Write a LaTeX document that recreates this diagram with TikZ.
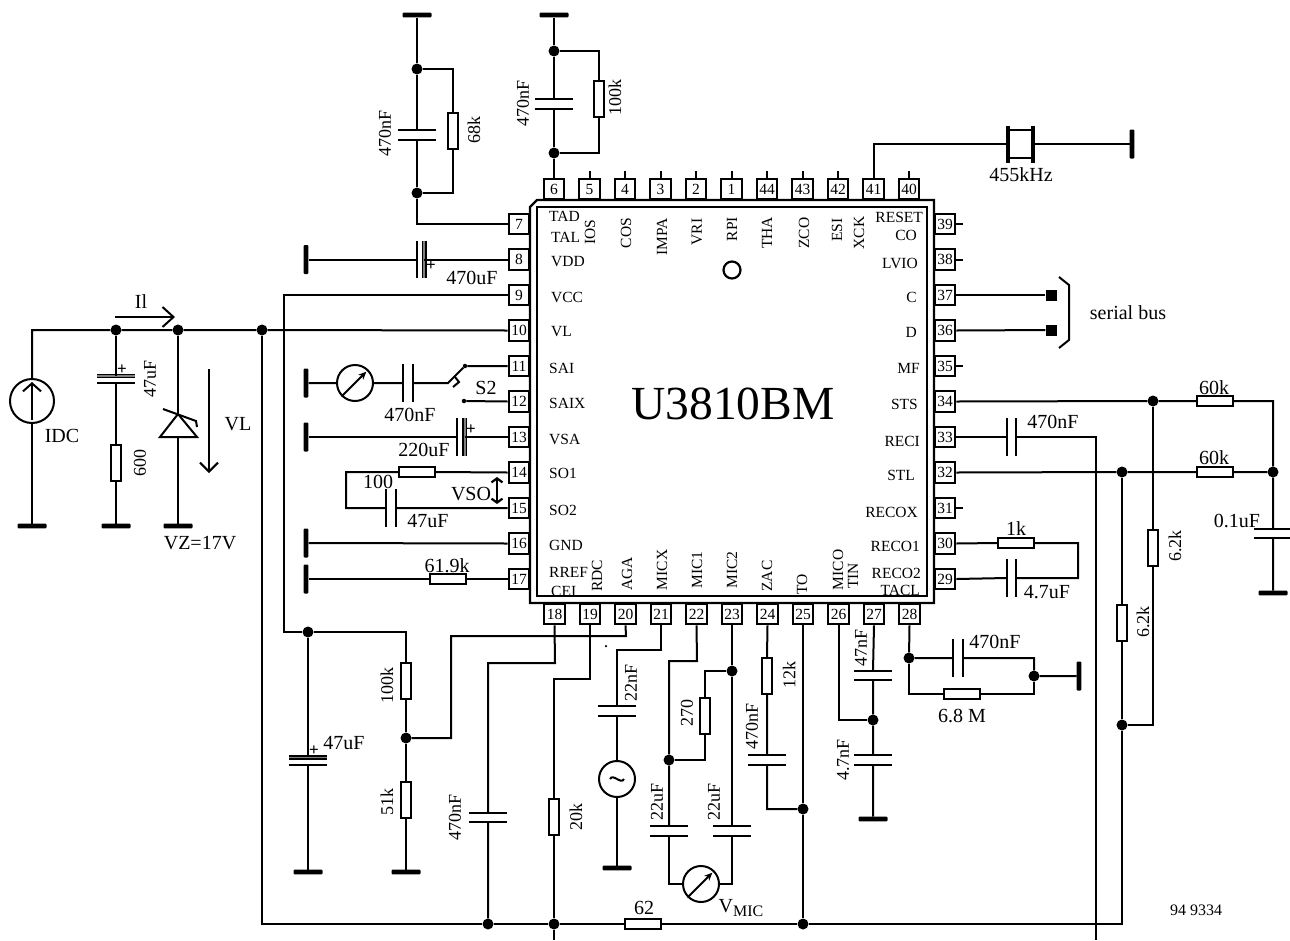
\documentclass[tikz,border=0pt]{standalone}
\usepackage{fontspec}
\setmainfont{Liberation Serif}
\usetikzlibrary{arrows.meta}
\newcommand{\fs}[1]{\fontsize{#1}{#1}\selectfont}
\tikzset{
	wire/.style={line width=2pt},
	pinbox/.style={draw, line width=2.2pt, minimum size=20.5pt, inner sep=0pt, font=\fs{15.5}},
	junc/.style={circle, fill=black, minimum size=11pt, inner sep=0pt},
	term/.style={rectangle, fill=black, minimum size=11pt, inner sep=0pt},
	contact/.style={circle, fill=black, minimum size=4.5pt, inner sep=0pt},
	resh/.style={draw, line width=2pt, fill=white, minimum width=36pt, minimum height=9.5pt, inner sep=0pt},
	resv/.style={draw, line width=2pt, fill=white, minimum width=9.5pt, minimum height=36pt, inner sep=0pt},
	gndh/.style={rectangle, fill=black, rounded corners=1pt, minimum width=29pt, minimum height=4.6pt, inner sep=0pt},
	gndv/.style={rectangle, fill=black, rounded corners=1pt, minimum width=4.6pt, minimum height=29pt, inner sep=0pt},
	plate/.style={line width=2pt},
	capv/.style={minimum width=37pt, minimum height=9pt, inner sep=0pt, append after command={
		(\tikzlastnode.north west) edge[plate] (\tikzlastnode.north east)
		(\tikzlastnode.south west) edge[plate] (\tikzlastnode.south east)}},
	caph/.style={minimum width=9pt, minimum height=37pt, inner sep=0pt, append after command={
		(\tikzlastnode.north west) edge[plate] (\tikzlastnode.south west)
		(\tikzlastnode.north east) edge[plate] (\tikzlastnode.south east)}},
	elcov/.style={minimum width=37pt, minimum height=7pt, inner sep=0pt, append after command={
		(\tikzlastnode.north west) edge[line width=4.6pt] (\tikzlastnode.north east)
		(\tikzlastnode.north west) edge[line width=1.6pt, gray] (\tikzlastnode.north east)
		(\tikzlastnode.south west) edge[plate] (\tikzlastnode.south east)}},
	elcoh/.style={minimum width=7pt, minimum height=37pt, inner sep=0pt, append after command={
		(\tikzlastnode.north east) edge[line width=4.6pt] (\tikzlastnode.south east)
		(\tikzlastnode.north east) edge[line width=1.6pt, gray] (\tikzlastnode.south east)
		(\tikzlastnode.north west) edge[plate] (\tikzlastnode.south west)}},
	plusmark/.style={inner sep=0pt, font=\fs{17}\bfseries},
	meter/.style={draw, circle, line width=2pt, fill=white, minimum size=36pt, inner sep=0pt, append after command={
		(\tikzlastnode.225) edge[line width=2pt, -{Stealth[length=8pt, width=7pt]}, shorten >=3pt] (\tikzlastnode.45)}},
	val/.style={inner sep=0pt, font=\fs{20}},
	rval/.style={inner sep=0pt, rotate=90, font=\fs{18}},
	lblw/.style={inner sep=0pt, anchor=west, font=\fs{15.5}},
	lble/.style={inner sep=0pt, anchor=east, font=\fs{15.5}},
	lblr/.style={inner sep=0pt, rotate=90, font=\fs{15.5}},
}
\begin{document}
\begin{tikzpicture}[x=1pt, y=-1pt]
	\path[fill=white, use as bounding box] (0,0) rectangle (1290,940);
	% the pins on the four sides
	\foreach \n [count=\i from 0] in {7,...,17} \node[pinbox] (p\n) at (519, {224+35.5*\i}) {\n};
	\foreach \n [count=\i from 0] in {6,5,4,3,2,1,44,43,42,41,40} \node[pinbox] (p\n) at ({554+35.5*\i}, 189) {\n};
	\foreach \n [count=\i from 0] in {18,...,28} \node[pinbox] (p\n) at ({554.5+35.5*\i}, 614) {\n};
	\foreach \n [count=\i from 0] in {39,38,...,29} \node[pinbox] (p\n) at (945, {224+35.5*\i}) {\n};
	% the chip
	\draw[line width=2.2pt, fill=white] (530,207) -- (537,200) -- (934,200) -- (934,603) -- (530,603) -- cycle;
	\draw[line width=2.2pt] (537,207) rectangle (927,596);
	\node[draw, circle, line width=2.2pt, minimum size=17pt, inner sep=0pt] (mark) at (732,270) {};
	\node[inner sep=0pt, font=\fs{47.5}] (chipname) at (733,404) {U3810BM};
	% pins that stay open
	\foreach \n in {5,4,3,2,1,44,43,42,40} \draw[wire] (p\n.north) -- ++(0,-7);
	\foreach \n in {39,38,35,31} \draw[wire] (p\n.east) -- ++(7,0);
	% texts inside the chip
	\foreach \x/\y/\t in {549/216/TAD, 551/237/TAL, 551/262/VDD, 551/297/VCC, 551/332/VL, 549/368/SAI, 549/403/SAIX, 549/439/VSA, 549/473/SO1, 549/510/SO2, 549/545/GND, 549/572/RREF, 551/591/CEI}
		\node[lblw] (l\t) at (\x,\y) {\t};
	\foreach \x/\y/\t in {923/217/RESET, 917/235/CO, 918/263/LVIO, 917/297/C, 917/332/D, 920/368/MF, 918/404/STS, 920/441/RECI, 915/475/STL, 918/512/RECOX, 920/546/RECO1, 921/573/RECO2, 920/590/TACL}
		\node[lble] (l\t) at (\x,\y) {\t};
	\foreach \x/\y/\t in {590/232/IOS, 626/233/COS, 662/237/IMPA, 697/232/VRI, 732/229/RPI, 767/233/THA, 804/233/ZCO, 837/230/ESI, 859/233/XCK, 597/576/RDC, 627/574/AGA, 662/570/MICX, 697/570/MIC1, 732/570/MIC2, 767/576/ZAC, 802/584/TO, 838/570/MICO, 853/576/TIN}
		\node[lblr] (l\t) at (\x,\y) {\t};
	% junctions
	\foreach \n/\x/\y in {a/116/330, b/178/330, c/262/330, d/417/69, e/417/193, f/554/51, g/554/153, h/308/632, i/406/738, k/488/924, l/554/924, m/803/924, n/803/809, o/669/760, q/732/671, r/873/720, s/909/658, t/1034/676, u/1122/725, v/1122/472, w/1153/401, x/1273/472}
		\node[junc] (j\n) at (\x,\y) {};
	% grounds
	\foreach \n/\x/\y in {1/32/526, 2/116/526, 3/178/526, 4/417/15, 5/554/15, 6/308/872, 7/406/872, 8/617/868, 9/873/819, 10/1273/593}
		\node[gndh] (g\n) at (\x,\y) {};
	\foreach \n/\x/\y in {11/1132/144, 12/306/259.5, 13/306/383, 14/306/437, 15/306/543, 16/306/579, 17/1079/676}
		\node[gndv] (g\n) at (\x,\y) {};
	% resistors
	\foreach \n/\x/\y in {a/448/579, b/417/472, c/643/924, d/962/694, e/1016/543, f/1215/401, g/1215/472}
		\node[resh] (r\n) at (\x,\y) {};
	\foreach \n/\x/\y in {h/116/463, i/453/131, k/599/99, l/406/681, m/406/800, n/554/817, o/705/716, p/767/676, q/1122/623, s/1153/548}
		\node[resv] (r\n) at (\x,\y) {};
	% capacitors
	\foreach \n/\x/\y in {a/417/135, b/554/104, c/488/817.5, d/617/711, e/669/831, f/732/831, g/767/760, h/873/675.5, i/873/760, k/1273/533.5}
		\node[capv] (c\n) at (\x,\y) {};
	\foreach \n/\x/\y in {l/408/383, m/391/508, n/958/658, o/1011.5/437, q/1011.5/578}
		\node[caph] (c\n) at (\x,\y) {};
	\node[elcov] (e1) at (116,379.5) {};
	\node[elcov] (e2) at (308,761) {};
	\node[elcoh] (e3) at (420.5,259.5) {};
	\node[elcoh] (e4) at (461,437) {};
	\node[plusmark] (e1p) at (122,370) {+};
	\node[plusmark] (e2p) at (314,751) {+};
	\node[plusmark] (e3p) at (431,266) {+};
	\node[plusmark] (e4p) at (471,430) {+};
	% sources and meters
	\node[draw, circle, line width=2pt, minimum size=44pt, inner sep=0pt] (idc) at (32,401) {};
	\node[draw, circle, line width=2pt, minimum size=36pt, inner sep=0pt] (sine) at (617,779) {};
	\draw[wire] ([xshift=-7pt]sine.center) .. controls (613,773) and (621,785) .. ([xshift=7pt]sine.center);
	\node[meter] (m1) at (355,383) {};
	\node[meter] (m2) at (701,884) {};
	% wire from the supply along the top
	\coordinate (railL) at (32,330);
	\draw[wire] (idc.north) -- (railL) -- (ja) -- (jb) -- (jc) -- (p10.west);
	\draw[wire] (idc.south) -- (g1);
	\coordinate (idcTip) at (32,382);
	\coordinate (idcEnd) at (32,420);
	\draw[wire, -{Straight Barb[length=8pt, width=18pt]}] (idcEnd) -- (idcTip);
	\draw[wire] (ja) -- (e1.north) (e1.south) -- (rh.north) (rh.south) -- (g2);
	% zener
	\coordinate (zA) at (178,414);
	\coordinate (zL) at (160,437);
	\coordinate (zR) at (197,437);
	\coordinate (zB) at (178,437);
	\coordinate (zBar1) at (163,409);
	\coordinate (zBar2) at (196,421);
	\coordinate (zBar3) at (197,427);
	\draw[wire] (jb) -- (zA) (zB) -- (g3);
	\draw[wire] (zA) -- (zL) -- (zR) -- cycle;
	\draw[wire] (zBar1) -- (zBar2) -- (zBar3);
	% current and voltage arrows
	\coordinate (ilA) at (115,317);
	\coordinate (ilB) at (175,317);
	\draw[wire, -{Straight Barb[length=11pt, width=20pt]}] (ilA) -- (ilB);
	\coordinate (vlA) at (209,369);
	\coordinate (vlB) at (209,473);
	\draw[wire, -{Straight Barb[length=9pt, width=18pt]}] (vlA) -- (vlB);
	\coordinate (vsoA) at (497,477);
	\coordinate (vsoB) at (497,504);
	\draw[line width=2.2pt, {Straight Barb[length=4pt, width=11pt]}-{Straight Barb[length=4pt, width=11pt]}] (vsoA) -- (vsoB);
	% upper left network
	\draw[wire] (p7.west) -| (je);
	\draw[wire] (je) -- (ca.south) (ca.north) -- (jd) -- (g4);
	\draw[wire] (jd) -| (ri.north) (ri.south) |- (je);
	\draw[wire] (p6.north) -- (jg) -- (cb.south) (cb.north) -- (jf) -- (g5);
	\draw[wire] (jf) -| (rk.north) (rk.south) |- (jg);
	\draw[wire] (g12) -- (e3.west) (e3.east) -- (p8.west);
	% pin 9 and the divider
	\coordinate (vccL) at (284,295);
	\draw[wire] (p9.west) -- (vccL) |- (jh) -- (e2.north) (e2.south) -- (g6);
	\draw[wire] (jh) -| (rl.north) (rl.south) -- (ji) -- (rm.north) (rm.south) -- (g7);
	\coordinate (agaR) at (626,636);
	\coordinate (agaL) at (451,636);
	\draw[wire] (p20.south) -- (agaR) -- (agaL) |- (ji);
	% switch
	\node[contact] (sw1) at (465,366) {};
	\node[contact] (sw2) at (464,401) {};
	\coordinate (swA) at (448,383);
	\coordinate (swH1) at (455,377);
	\coordinate (swH2) at (459,382);
	\coordinate (swH3) at (453,387);
	\draw[wire] (g13) -- (m1) -- (cl.west) (cl.east) -- (swA) -- (sw1) -- (p11.west);
	\draw[wire] (swH1) -- (swH2) -- (swH3);
	\draw[wire] (sw2) -- (p12.west);
	\draw[wire] (g14) -- (e4.west) (e4.east) -- (p13.west);
	% pins 14 to 17
	\coordinate (soL) at (346,472);
	\draw[wire] (p14.west) -- (rb.east) (rb.west) -- (soL) |- (cm.west) (cm.east) -- (p15.west);
	\draw[wire] (g15) -- (p16.west);
	\draw[wire] (g16) -- (ra.west) (ra.east) -- (p17.west);
	% the bottom rail
	\coordinate (railE) at (1122,924);
	\draw[wire] (jc) |- (jk) -- (jl) -- (rc.west) (rc.east) -- (jm) -- (railE) -- (ju) -- (rq.south) (rq.north) -- (jv);
	% pins 18 to 28
	\coordinate (p18B) at (555,663);
	\coordinate (p18L) at (488,663);
	\draw[wire] (p18.south) -- (p18B) -- (p18L) -- (cc.north) (cc.south) -- (jk);
	\coordinate (p19B) at (590,679);
	\coordinate (p19L) at (554,679);
	\coordinate (bot1) at (554,940);
	\draw[wire] (p19.south) -- (p19B) -- (p19L) -- (rn.north) (rn.south) -- (jl) -- (bot1);
	\coordinate (p21B) at (661,650);
	\coordinate (p21L) at (617,650);
	\node[contact, minimum size=2.5pt] (spot) at (606,646) {};
	\draw[wire] (p21.south) -- (p21B) -- (p21L) -- (cd.north) (cd.south) -- (sine) -- (g8);
	\coordinate (p22B) at (697,661);
	\coordinate (p22L) at (669,661);
	\draw[wire] (p22.south) -- (p22B) -- (p22L) -- (jo) -- (ce.north);
	\draw[wire] (ce.south) |- (m2) -| (cf.south) (cf.north) -- (jq) -- (p23.south);
	\draw[wire] (jq) -| (ro.north) (ro.south) |- (jo);
	\draw[wire] (p24.south) -- (rp.north) (rp.south) -- (cg.north) (cg.south) |- (jn);
	\draw[wire] (p25.south) -- (jn) -- (jm);
	\draw[wire] (p26.south) |- (jr);
	\draw[wire] (p27.south) -- (ch.north) (ch.south) -- (jr) -- (ci.north) (ci.south) -- (g9);
	\draw[wire] (p28.south) -- (js) -- (cn.west) (cn.east) -| (jt) -- (g17);
	\coordinate (p28B) at (909,694);
	\coordinate (p28R) at (1034,694);
	\draw[wire] (js) -- (p28B) -- (rd.west) (rd.east) -- (p28R) -- (jt);
	% right side
	\draw[wire] (p30.east) -- (re.west);
	\coordinate (recoR) at (1078,543);
	\draw[wire] (re.east) -- (recoR) |- (cq.east) (cq.west) -- (p29.east);
	\coordinate (stsR) at (1273,401);
	\draw[wire] (p34.east) -- (jw) -- (rf.west) (rf.east) -- (stsR) -- (jx) -- (ck.north) (ck.south) -- (g10);
	\draw[wire] (p32.east) -- (jv) -- (rg.west) (rg.east) -- (jx);
	\draw[wire] (jw) -- (rs.north) (rs.south) |- (ju);
	\coordinate (reciR) at (1096,437);
	\coordinate (bot2) at (1096,940);
	\draw[wire] (p33.east) -- (co.west) (co.east) -- (reciR) -- (bot2);
	% serial bus
	\node[term] (tc) at (1051,295) {};
	\node[term] (td) at (1051,330) {};
	\draw[wire] (p37.east) -- (tc);
	\draw[wire] (p36.east) -- (td);
	\coordinate (br1) at (1059,277);
	\coordinate (br2) at (1069,285);
	\coordinate (br3) at (1069,340);
	\coordinate (br4) at (1059,348);
	\draw[wire] (br1) -- (br2) -- (br3) -- (br4);
	% crystal
	\node[draw, line width=2pt, minimum width=24pt, minimum height=28pt, inner sep=0pt] (xtal) at (1021,144) {};
	\coordinate (xtalT1) at (1008,126);
	\coordinate (xtalB1) at (1008,163);
	\coordinate (xtalT2) at (1033,126);
	\coordinate (xtalB2) at (1033,163);
	\draw[line width=3.6pt] (xtalT1) -- (xtalB1) (xtalT2) -- (xtalB2);
	\coordinate (xtalL) at (1008,144);
	\coordinate (xtalR) at (1033,144);
	\draw[wire] (p41.north) |- (xtalL) (xtalR) -- (g11);
	% values, upright
	\foreach \x/\y/\t [count=\i] in {141/302/Il, 62/436/IDC, 238/424/VL, 200/543/VZ=17V, 472/278/470uF, 410/415/470nF, 486/388/S2, 424/450/220uF, 378/482/100, 428/521/47uF, 471/494/VSO, 447/566/61.9k, 344/743/47uF, 644/908/62, 995/642/470nF, 962/716/6.8 M, 1016/529/1k, 1047/592/4.7uF, 1053/422/470nF, 1214/388/60k, 1214/458/60k, 1237/521/0.1uF, 1128/313/serial bus, 1021/175/455kHz}
		\node[val] (v\i) at (\x,\y) {\t};
	% values, turned
	\foreach \x/\y/\t [count=\i] in {150/379/47uF, 140/463/600, 385/133/470nF, 474/130/68k, 523/103/470nF, 615/97/100k, 387/685/100k, 387/802/51k, 455/817/470nF, 576/817/20k, 631/683/22nF, 657/802/22uF, 714/802/22uF, 687/713/270, 789/675/12k, 752/726/470nF, 861/648/47nF, 843/760/4.7nF, 1175/546/6.2k, 1143/622/6.2k}
		\node[rval] (w\i) at (\x,\y) {\t};
	\node[inner sep=0pt, font=\fs{20}] (vmic) at (741,908) {V\raisebox{-4pt}{\fs{16}MIC}};
	\node[inner sep=0pt, font=\fs{16}] (docno) at (1196,910) {94 9334};
\end{tikzpicture}
\end{document}
